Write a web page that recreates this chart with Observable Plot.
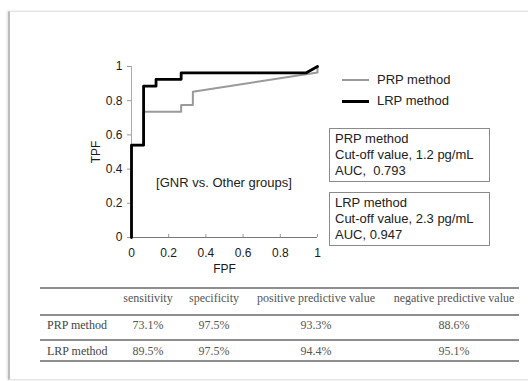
<!DOCTYPE html>
<html><head><meta charset="utf-8">
<script src="https://cdn.jsdelivr.net/npm/d3@7"></script>
<script src="https://cdn.jsdelivr.net/npm/@observablehq/plot@0.6"></script>
<style>
html,body{margin:0;padding:0;background:#fff;}
#root{position:relative;width:528px;height:381px;overflow:hidden;background:#fff;font-family:Arial,"Liberation Sans",sans-serif;}
#frame{position:absolute;left:8px;top:11px;width:560px;height:367px;border-left:2px solid #bdbdbd;border-top:1px solid #e2e2e2;border-bottom:1px solid #e4e4e4;box-shadow:-1px 0 2px rgba(0,0,0,0.12);}
#plot{position:absolute;left:0;top:0;}
.abs{position:absolute;white-space:nowrap;}
.leg{font-size:13px;color:#222;line-height:16px;}
.box{position:absolute;border:1px solid #8a8a8a;font-size:13px;line-height:16px;color:#222;padding:2px 0 0 5px;box-sizing:border-box;background:#fff;}
.cell{position:absolute;font-family:"Liberation Serif","Times New Roman",serif;font-size:12px;line-height:14px;white-space:nowrap;}
.hline{position:absolute;height:2px;background:#8e8e8e;}
</style></head>
<body><div id="root"><div id="frame"></div><div id="plot"></div></div>
<script>
// ROC curve data
const lrpFPF = [0, 0, 0.065, 0.065, 0.132, 0.132, 0.267, 0.267, 0.94, 1];
const lrpTPF = [0, 0.54, 0.54, 0.885, 0.885, 0.925, 0.925, 0.963, 0.963, 1];
const prpFPF = [0, 0, 0.065, 0.065, 0.267, 0.267, 0.33, 0.33, 1, 1];
const prpTPF = [0, 0.54, 0.54, 0.735, 0.735, 0.775, 0.775, 0.853, 0.965, 1];

const xTicks = [0, 0.2, 0.4, 0.6, 0.8, 1];
const xTickLabels = ["0", "0.2", "0.4", "0.6", "0.8", "1"];
const yTicks = [0, 0.2, 0.4, 0.6, 0.8, 1];
const yTickLabels = ["0", "0.2", "0.4", "0.6", "0.8", "1"];

const seriesNames = ["PRP method", "LRP method"];
const boxLines = [
  ["PRP method", "Cut-off value, 1.2 pg/mL", "AUC,  0.793"],
  ["LRP method", "Cut-off value, 2.3 pg/mL", "AUC, 0.947"]
];
const annotation = "[GNR vs. Other groups]";

// Table
const tableHeaders = ["", "sensitivity", "specificity", "positive predictive value", "negative predictive value"];
const tableRows = ["PRP method", "LRP method"];
const sensitivity = ["73.1%", "89.5%"];
const specificity = ["97.5%", "97.5%"];
const ppv = ["93.3%", "94.4%"];
const npv = ["88.6%", "95.1%"];

const prp = prpFPF.map((f, i) => ({fpf: f, tpf: prpTPF[i]}));
const lrp = lrpFPF.map((f, i) => ({fpf: f, tpf: lrpTPF[i]}));

const chart = Plot.plot({
  width: 528, height: 280,
  marginLeft: 131, marginRight: 211, marginTop: 66, marginBottom: 43,
  x: {domain: [0, 1]},
  y: {domain: [0, 1]},
  style: {fontFamily: "Arial, 'Liberation Sans', sans-serif", fontSize: "12px", color: "#1a1a1a", background: "transparent", overflow: "visible"},
  marks: [
    Plot.axisY({ticks: yTicks, tickFormat: d => yTickLabels[yTicks.indexOf(d)], tickSize: 4, tickPadding: 5,
      stroke: "#9a9a9a", fill: "#1a1a1a", label: "TPF", labelAnchor: "center", labelArrow: "none", labelOffset: 40}),
    Plot.axisX({ticks: xTicks, tickFormat: d => xTickLabels[xTicks.indexOf(d)], tickSize: 0, tickPadding: 11,
      fill: "#1a1a1a", label: "FPF", labelAnchor: "center", labelArrow: "none", labelOffset: 35}),
    Plot.ruleX([0], {stroke: "#aaa"}),
    Plot.ruleY([0], {stroke: "#777"}),
    Plot.ruleX(xTicks.slice(1), {y1: 0, y2: 0, insetTop: -3, stroke: "#999"}),
    Plot.line(prp, {x: "fpf", y: "tpf", stroke: "#9a9a9a", strokeWidth: 2}),
    Plot.line(lrp, {x: "fpf", y: "tpf", stroke: "#000", strokeWidth: 2.8})
  ]
});
document.getElementById("plot").appendChild(chart);

const root = document.getElementById("root");
function add(cls, css, html) {
  const d = document.createElement("div");
  d.className = cls;
  Object.assign(d.style, css);
  if (html != null) d.textContent = html;
  root.appendChild(d);
  return d;
}

// legend
const legY = [80, 101];
const legStroke = [["#9a9a9a", 1.5], ["#000", 3]];
seriesNames.forEach((n, i) => {
  add("abs", {left: "342px", top: (legY[i] - legStroke[i][1] / 2) + "px", width: "27px", height: legStroke[i][1] + "px", background: legStroke[i][0]});
  add("abs leg", {left: "377px", top: (legY[i] - 8) + "px"}, n);
});

// annotation boxes
const boxTop = [128, 192];
boxLines.forEach((lines, i) => {
  const b = add("box", {left: "329px", top: boxTop[i] + "px", width: "161px", height: "54px"});
  b.innerHTML = lines.map(s => s.replace(/  /g, " &nbsp;")).join("<br>");
});

add("abs leg", {left: "224px", top: "175px", transform: "translateX(-50%)"}, annotation);

// table
const lineY = [287, 314, 339, 360];
lineY.forEach(y => add("hline", {left: "40px", top: y + "px", width: "479px"}));
const colCenter = [null, 148, 214, 316, 454];
const rowY = [298, 325, 351];
tableHeaders.forEach((h, j) => {
  if (!h) return;
  add("cell", {left: colCenter[j] + "px", top: (rowY[0] - 7) + "px", transform: "translateX(-50%)", color: "#555"}, h);
});
tableRows.forEach((r, i) => {
  const y = rowY[i + 1] - 7;
  add("cell", {left: "47px", top: y + "px", color: "#444"}, r);
  [sensitivity[i], specificity[i], ppv[i], npv[i]].forEach((v, j) => {
    add("cell", {left: colCenter[j + 1] + "px", top: y + "px", transform: "translateX(-50%)", color: "#555"}, v);
  });
});
</script></body></html>
